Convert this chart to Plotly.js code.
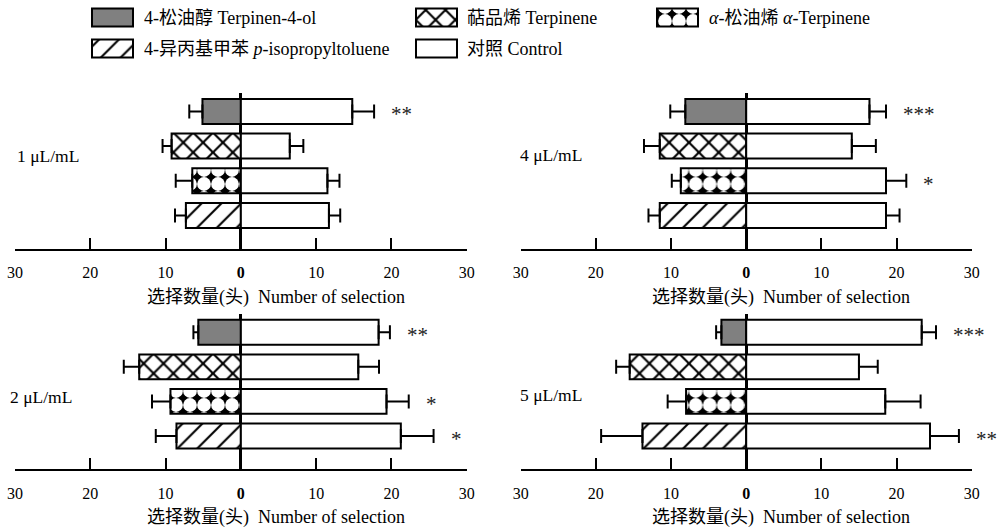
<!DOCTYPE html>
<html>
<head>
<meta charset="utf-8">
<script src="https://cdn.plot.ly/plotly-3.0.1.min.js"></script>
<style>html,body{margin:0;padding:0;background:#fff;}#chart{width:998px;height:527px;}</style>
</head>
<body>
<div id="chart"></div>
<script>
// ---------- DATA ----------
const compounds = ['Terpinen-4-ol', 'Terpinene', 'α-Terpinene', 'p-isopropyltoluene'];
const legendLabels = ['4-松油醇 Terpinen-4-ol', '萜品烯 Terpinene', '<i>α</i>-松油烯 <i>α</i>-Terpinene', '4-异丙基甲苯 <i>p</i>-isopropyltoluene', '对照 Control'];
const doses = ['1 μL/mL', '4 μL/mL', '2 μL/mL', '5 μL/mL'];
const tickVals = [-30, -20, -10, 0, 10, 20, 30];
const tickText = ['30', '20', '10', '<b>0</b>', '10', '20', '30'];
const axisTitle = '选择数量(头)\u00a0 Number of selection';

// 1 μL/mL
const treat_1 = [5.1, 9.2, 6.45, 7.3];
const treatErr_1 = [1.75, 1.2, 2.2, 1.45];
const ctrl_1 = [14.8, 6.5, 11.5, 11.7];
const ctrlErr_1 = [2.9, 1.8, 1.6, 1.5];
const sig_1 = ['**', '', '', ''];
// 4 μL/mL
const treat_4 = [8.1, 11.5, 8.7, 11.5];
const treatErr_4 = [2.0, 2.1, 1.2, 1.5];
const ctrl_4 = [16.4, 14.05, 18.6, 18.6];
const ctrlErr_4 = [2.2, 3.2, 2.7, 1.8];
const sig_4 = ['***', '', '*', ''];
// 2 μL/mL
const treat_2 = [5.65, 13.5, 9.35, 8.55];
const treatErr_2 = [0.65, 2.05, 2.45, 2.75];
const ctrl_2 = [18.3, 15.6, 19.35, 21.25];
const ctrlErr_2 = [1.5, 2.75, 2.95, 4.35];
const sig_2 = ['**', '', '*', '*'];
// 5 μL/mL
const treat_5 = [3.3, 15.5, 8.0, 13.8];
const treatErr_5 = [0.7, 1.8, 2.45, 5.5];
const ctrl_5 = [23.35, 15.0, 18.5, 24.45];
const ctrlErr_5 = [1.9, 2.5, 4.7, 3.85];
const sig_5 = ['***', '', '', '**'];

// ---------- STYLES ----------
const FONT = 'Liberation Serif, Times New Roman, Noto Sans CJK SC, serif';
const styles = [
  {color: '#808080', pattern: {shape: ''}},
  {color: 'white', pattern: {shape: 'x', fgcolor: 'black', bgcolor: 'white', size: 14, solidity: 0.28}},
  {color: 'black', pattern: {shape: '.', fgcolor: 'white', bgcolor: 'black', size: 14, solidity: 0.76}},
  {color: 'white', pattern: {shape: '/', fgcolor: 'black', bgcolor: 'white', size: 14, solidity: 0.15}},
  {color: 'white', pattern: {shape: ''}}
];

const panels = [
  {dose: doses[0], treat: treat_1, tErr: treatErr_1, ctrl: ctrl_1, cErr: ctrlErr_1, sig: sig_1},
  {dose: doses[1], treat: treat_4, tErr: treatErr_4, ctrl: ctrl_4, cErr: ctrlErr_4, sig: sig_4},
  {dose: doses[2], treat: treat_2, tErr: treatErr_2, ctrl: ctrl_2, cErr: ctrlErr_2, sig: sig_2},
  {dose: doses[3], treat: treat_5, tErr: treatErr_5, ctrl: ctrl_5, cErr: ctrlErr_5, sig: sig_5}
];

// layout geometry (pixels -> paper)
const W = 998, H = 527;
const xDom = [[15 / W, 466.7 / W], [520.7 / W, 971.7 / W], [15 / W, 466.7 / W], [520.7 / W, 971.7 / W]];
const yDom = [[1 - 249 / H, 1 - 93 / H], [1 - 249 / H, 1 - 93 / H], [1 - 469.3 / H, 1 - 314 / H], [1 - 469.3 / H, 1 - 314 / H]];
const labelPos = [[15, 156], [518, 155], [8, 397], [518, 395]];
const titlePos = [[276, 297], [781, 297], [276, 517], [781, 517]];

const traces = [];
const annotations = [];
const layout = {
  width: W, height: H, autosize: false,
  margin: {l: 0, r: 0, t: 0, b: 0},
  paper_bgcolor: 'white', plot_bgcolor: 'white',
  showlegend: false, barmode: 'overlay',
  font: {family: FONT, color: 'black'},
  annotations: annotations
};

panels.forEach((p, i) => {
  const n = i + 1;
  const xa = n === 1 ? 'x' : 'x' + n;
  const ya = n === 1 ? 'y' : 'y' + n;
  compounds.forEach((c, k) => {
    traces.push({
      type: 'bar', orientation: 'h', xaxis: xa, yaxis: ya,
      y: [c], x: [-p.treat[k]], width: 0.72,
      marker: {color: styles[k].color, pattern: styles[k].pattern, line: {color: 'black', width: 2}},
      error_x: {type: 'data', symmetric: false, array: [0], arrayminus: [p.tErr[k]], color: 'black', thickness: 2, width: 7},
      hoverinfo: 'skip'
    });
  });
  traces.push({
    type: 'bar', orientation: 'h', xaxis: xa, yaxis: ya,
    y: compounds, x: p.ctrl, width: 0.72,
    marker: {color: 'white', line: {color: 'black', width: 2}},
    error_x: {type: 'data', symmetric: false, array: p.cErr, arrayminus: p.ctrl.map(() => 0), color: 'black', thickness: 2, width: 7},
    hoverinfo: 'skip'
  });
  layout['xaxis' + (n === 1 ? '' : n)] = {
    domain: xDom[i], anchor: ya, range: [-30, 30], fixedrange: true,
    tickmode: 'array', tickvals: tickVals, ticktext: tickText,
    ticks: 'inside', ticklen: 11, tickwidth: 2, tickcolor: 'black',
    showline: true, linewidth: 2, linecolor: 'black',
    showgrid: false, zeroline: true, zerolinewidth: 3, zerolinecolor: 'black',
    tickfont: {family: FONT, size: 16, color: 'black'}, ticklabelstandoff: 8
  };
  layout['yaxis' + (n === 1 ? '' : n)] = {
    domain: yDom[i], anchor: xa, type: 'category',
    categoryorder: 'array', categoryarray: compounds,
    range: [3.965, -0.53], fixedrange: true,
    showticklabels: false, ticks: '', showline: false, showgrid: false, zeroline: false
  };
  // dose label
  annotations.push({xref: 'paper', yref: 'paper', x: labelPos[i][0] / W, y: 1 - labelPos[i][1] / H,
    xanchor: 'left', yanchor: 'middle', text: p.dose, showarrow: false,
    font: {family: FONT, size: 17.5, color: 'black'}});
  // axis title
  annotations.push({xref: 'paper', yref: 'paper', x: titlePos[i][0] / W, y: 1 - titlePos[i][1] / H,
    xanchor: 'center', yanchor: 'middle', text: axisTitle, showarrow: false,
    font: {family: FONT, size: 18, color: 'black'}});
  // significance marks
  compounds.forEach((c, k) => {
    if (!p.sig[k]) return;
    annotations.push({xref: xa, yref: ya, x: p.ctrl[k] + p.cErr[k], y: c,
      xanchor: 'left', yanchor: 'middle', xshift: 15, yshift: -3, text: p.sig[k], showarrow: false,
      font: {family: FONT, size: 21, color: '#222'}});
  });
});

// ---------- LEGEND (swatches drawn as bars on a hidden pixel-scaled axis) ----------
const legCols = [92, 416, 657, 92, 416];
const legRows = [17.5, 17.5, 17.5, 48.5, 48.5];
const legTextX = [142, 465, 707, 142, 465];
const swW = 41, swH = 18;
layout.xaxis5 = {domain: [0, 1], range: [0, W], visible: false, fixedrange: true, anchor: 'y5'};
layout.yaxis5 = {domain: [1 - 66 / H, 1], range: [66, 0], visible: false, fixedrange: true, anchor: 'x5'};
legendLabels.forEach((lab, k) => {
  traces.push({
    type: 'bar', orientation: 'h', xaxis: 'x5', yaxis: 'y5',
    y: [legRows[k]], x: [swW], base: [legCols[k]], width: swH,
    marker: {color: styles[k].color, pattern: styles[k].pattern, line: {color: 'black', width: 2}},
    hoverinfo: 'skip'
  });
  annotations.push({xref: 'paper', yref: 'paper', x: legTextX[k] / W, y: 1 - legRows[k] / H,
    xanchor: 'left', yanchor: 'middle', text: lab, showarrow: false,
    font: {family: FONT, size: 18, color: 'black'}});
});

Plotly.newPlot('chart', traces, layout, {staticPlot: true, displayModeBar: false});
</script>
</body>
</html>
